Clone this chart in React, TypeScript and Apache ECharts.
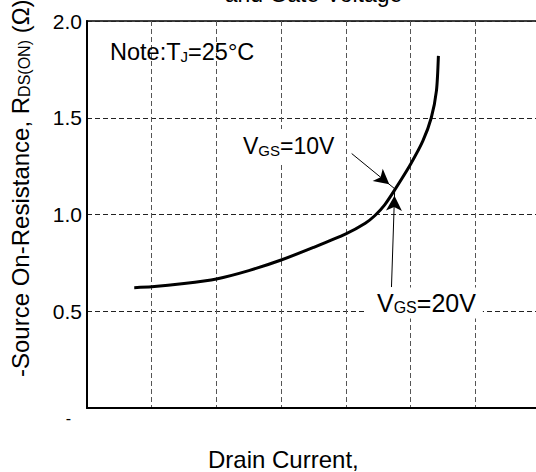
import React, { useEffect, useRef } from 'react';
import * as echarts from 'echarts';

// Drain current (grid units, labels not shown in the reference)
const drainCurrent = [0.73, 1.0, 1.5, 2.0, 2.5, 3.0, 3.5, 4.0, 4.3, 4.45, 4.6, 4.76, 5.0, 5.19, 5.32, 5.4, 5.43];
// R_DS(ON) in ohms
const resistance = [0.622, 0.626, 0.643, 0.667, 0.71, 0.765, 0.83, 0.9, 0.955, 0.995, 1.05, 1.13, 1.26, 1.38, 1.5, 1.64, 1.82];

// y tick labels for 0, 0.5, 1.0, 1.5, 2.0
const yTickValues = [0, 0.5, 1.0, 1.5, 2.0];
const yTickLabels = ['-', '0.5', '1.0', '1.5', '2.0'];

// annotation arrows (data coordinates)
const arrowTip = [4.755, 1.133];
const arrow10From = [4.09, 1.315];
const arrow20From = [4.705, 0.625];

const FONT = '"Liberation Sans", Arial, Helvetica, sans-serif';

export default function App() {
  const ref = useRef<HTMLDivElement>(null);

  useEffect(() => {
    if (!ref.current) return;
    const chart = echarts.init(ref.current, null, { renderer: 'svg' });
    const sub = { fontSize: 15, fontFamily: FONT, fill: '#000', padding: [9, 0, 0, 0] };

    chart.setOption({
      animation: false,
      backgroundColor: '#fff',
      grid: {
        left: 87,
        right: 20,
        top: 21,
        bottom: 64,
        show: true,
        borderColor: '#000',
        borderWidth: 1.5,
        backgroundColor: 'transparent',
      },
      xAxis: {
        type: 'value',
        min: 0,
        max: 7,
        interval: 1,
        axisLine: { show: true, lineStyle: { color: '#000', width: 2 } },
        axisTick: { show: false },
        axisLabel: { show: false },
        splitLine: { show: true, lineStyle: { color: '#555', type: [5, 3], width: 1 } },
      },
      yAxis: {
        type: 'value',
        min: 0,
        max: 2,
        interval: 0.5,
        axisLine: { show: true, onZero: false, lineStyle: { color: '#000', width: 2 } },
        axisTick: { show: false },
        axisLabel: {
          color: '#000',
          fontSize: 21,
          fontFamily: FONT,
          margin: 5,
          formatter: (v: number) => {
            const i = yTickValues.findIndex((t) => Math.abs(t - v) < 1e-6);
            const s = i >= 0 ? yTickLabels[i] : '';
            return v === 0 ? `{z|${s}}` : s;
          },
          rich: { z: { fontSize: 16, fontFamily: FONT, color: '#000', padding: [20, 11, 0, 0] } },
        },
        splitLine: { show: true, lineStyle: { color: '#222', type: [5, 3], width: 1 } },
      },
      series: [
        {
          type: 'line',
          data: drainCurrent.map((x, i) => [x, resistance[i]]),
          symbol: 'none',
          smooth: 0.25,
          lineStyle: { color: '#000', width: 3 },
          z: 3,
          markLine: {
            silent: true,
            symbol: ['none', 'arrow'],
            symbolSize: [12, 15],
            symbolOffset: [0, [0, 7]],
            label: { show: false },
            lineStyle: { color: '#000', width: 1, type: 'solid' },
            data: [
              [{ coord: arrow10From }, { coord: arrowTip }],
              [{ coord: arrow20From }, { coord: arrowTip }],
            ],
          },
        },
      ],
      graphic: [
        {
          type: 'text',
          x: 313.5,
          y: -6,
          z: 100,
          style: { text: 'and Gate Voltage', fontSize: 23, fontFamily: FONT, fill: '#000', align: 'center', verticalAlign: 'middle' },
        },
        {
          type: 'text',
          x: 110,
          y: 52,
          z: 100,
          style: {
            text: 'Note:T{s|J}=25°C',
            fontSize: 23.5,
            fontFamily: FONT,
            fill: '#000',
            verticalAlign: 'middle',
            rich: { s: sub },
          },
        },
        {
          type: 'text',
          x: 237,
          y: 146,
          z: 100,
          style: {
            text: 'V{s|GS}=10V',
            fontSize: 23,
            fontFamily: FONT,
            fill: '#000',
            verticalAlign: 'middle',
            backgroundColor: '#fff',
            padding: [5, 8, 5, 6],
            rich: { s: sub },
          },
        },
        {
          type: 'text',
          x: 365,
          y: 303,
          z: 100,
          style: {
            text: 'V{s|GS}=20V',
            fontSize: 25,
            fontFamily: FONT,
            fill: '#000',
            verticalAlign: 'middle',
            backgroundColor: '#fff',
            padding: [3, 7, 3, 12],
            rich: { s: { ...sub, fontSize: 16 } },
          },
        },
        {
          type: 'text',
          x: 20,
          y: 377,
          rotation: Math.PI / 2,
          z: 100,
          style: {
            text: '-Source On-Resistance, R{s|DS(ON)} (Ω)',
            fontSize: 24,
            fontFamily: FONT,
            fill: '#000',
            align: 'left',
            verticalAlign: 'middle',
            rich: { s: { ...sub, fontSize: 16 } },
          },
        },
        {
          type: 'text',
          x: 208,
          y: 459,
          z: 100,
          style: { text: 'Drain Current,', fontSize: 24, fontFamily: FONT, fill: '#000', verticalAlign: 'middle' },
        },
      ],
    });

    return () => chart.dispose();
  }, []);

  return (
    <div
      ref={ref}
      style={{ position: 'fixed', left: 0, top: 0, width: 560, height: 472 }}
    />
  );
}
